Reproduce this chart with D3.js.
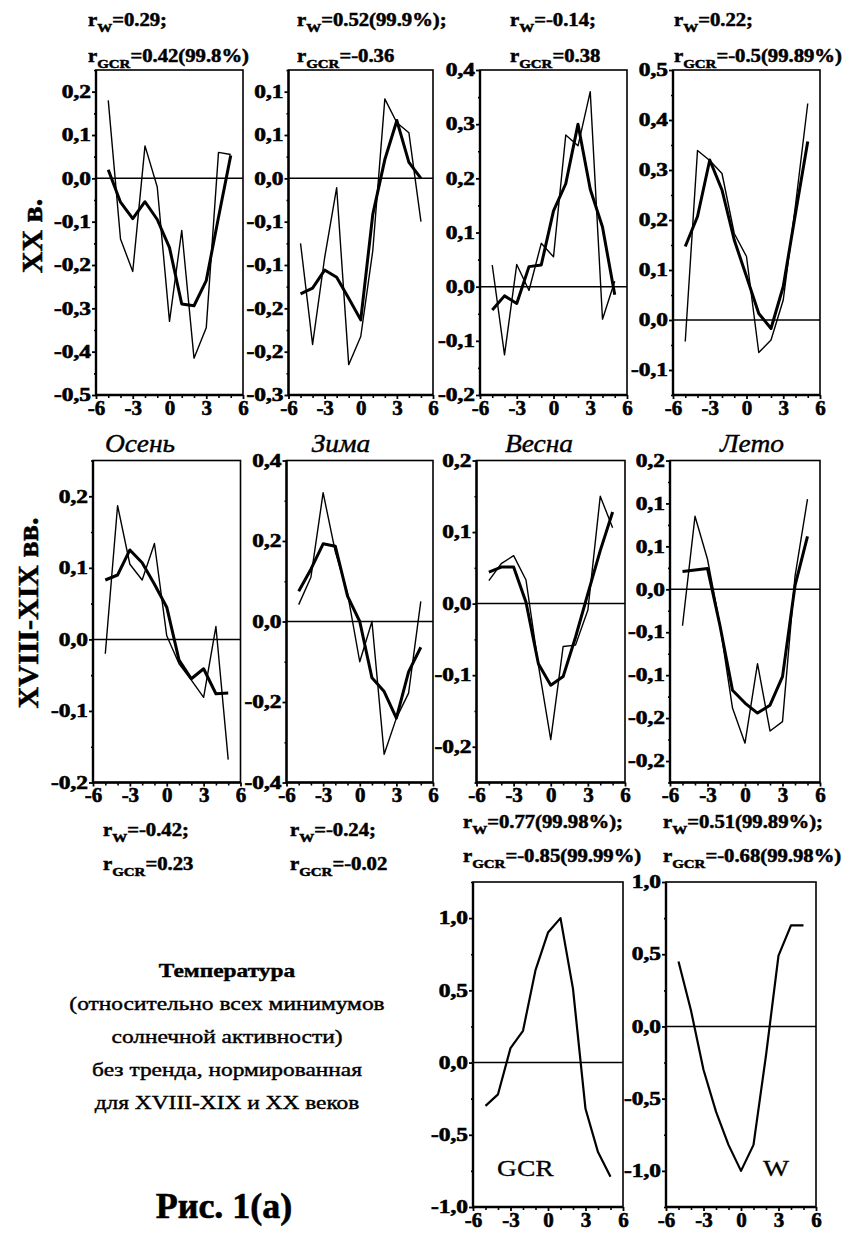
<!DOCTYPE html>
<html>
<head>
<meta charset="utf-8">
<script src="https://cdn.jsdelivr.net/npm/d3@7"></script>
<style>
body { margin: 0; background: #fff; }
svg { display: block; font-family: "Liberation Serif", "Times New Roman", serif; }
</style>
</head>
<body>
<div id="chart"></div>
<script>
// lag (years) relative to solar activity minimum
var lags = [-5, -4, -3, -2, -1, 0, 1, 2, 3, 4, 5];
var xTicks = [-6, -3, 0, 3, 6];
var seasons = ["Осень", "Зима", "Весна", "Лето"];

// XX century: thin = raw, thick = smoothed
var xxAutumnRaw = [0.18, -0.14, -0.215, 0.075, -0.02, -0.33, -0.12, -0.415, -0.345, 0.06, 0.055];
var xxAutumnSmooth = [0.02, -0.055, -0.093, -0.054, -0.095, -0.16, -0.29, -0.294, -0.236, -0.09, 0.053];
var xxWinterRaw = [-0.09, -0.23, -0.11, -0.013, -0.258, -0.219, -0.1, 0.11, 0.077, 0.063, -0.06];
var xxWinterSmooth = [-0.16, -0.152, -0.127, -0.137, -0.166, -0.196, -0.05, 0.026, 0.08, 0.022, 0.0];
var xxSpringRaw = [0.04, -0.126, 0.041, -0.007, 0.08, 0.055, 0.28, 0.26, 0.36, -0.06, 0.01];
var xxSpringSmooth = [-0.043, -0.017, -0.031, 0.037, 0.04, 0.14, 0.19, 0.3, 0.18, 0.11, -0.015];
var xxSummerRaw = [-0.043, 0.339, 0.319, 0.293, 0.173, 0.127, -0.065, -0.04, 0.04, 0.23, 0.433];
var xxSummerSmooth = [0.147, 0.207, 0.32, 0.26, 0.16, 0.087, 0.013, -0.017, 0.067, 0.213, 0.357];

// XVIII-XIX centuries
var oldAutumnRaw = [-0.02, 0.187, 0.105, 0.083, 0.134, 0.005, -0.034, -0.057, -0.081, 0.018, -0.168];
var oldAutumnSmooth = [0.083, 0.09, 0.125, 0.107, 0.077, 0.045, -0.029, -0.055, -0.041, -0.076, -0.075];
var oldWinterRaw = [0.042, 0.11, 0.32, 0.173, 0.07, -0.1, 0.0, -0.33, -0.24, -0.178, 0.05];
var oldWinterSmooth = [0.075, 0.13, 0.193, 0.187, 0.063, 0.0, -0.14, -0.174, -0.24, -0.125, -0.064];
var oldSpringRaw = [0.032, 0.056, 0.067, 0.033, -0.086, -0.19, -0.06, -0.058, -0.009, 0.15, 0.106];
var oldSpringSmooth = [0.044, 0.051, 0.051, 0.002, -0.084, -0.114, -0.102, -0.047, 0.014, 0.074, 0.128];
var oldSummerRaw = [-0.051, 0.102, 0.042, -0.05, -0.166, -0.215, -0.104, -0.198, -0.185, 0.018, 0.126];
var oldSummerSmooth = [0.025, 0.027, 0.029, -0.051, -0.141, -0.159, -0.173, -0.162, -0.122, 0.005, 0.074];

// normalised GCR and Wolf number
var gcrValues = [-0.3, -0.22, 0.1, 0.22, 0.64, 0.9, 1.0, 0.51, -0.32, -0.62, -0.79];
var wolfValues = [0.45, 0.11, -0.3, -0.59, -0.82, -1.0, -0.82, -0.2, 0.49, 0.7, 0.7];

var yDomains = [[-0.5, 0.25], [-0.3, 0.15], [-0.2, 0.4], [-0.15, 0.5],
  [-0.2, 0.25], [-0.4, 0.4], [-0.25, 0.2], [-0.27, 0.18],
  [-1, 1.25], [-1.25, 1]];
var yTickSteps = [0.1, 0.06, 0.1, 0.1, 0.1, 0.2, 0.1, 0.06, 0.5, 0.5];

var corrW = ["=0.29;", "=0.52(99.9%);", "=-0.14;", "=0.22;", "=-0.42;", "=-0.24;", "=0.77(99.98%);", "=0.51(99.89%);"];
var corrGCR = ["=0.42(99.8%)", "=-0.36", "=0.38", "=-0.5(99.89%)", "=0.23", "=-0.02", "=-0.85(99.99%)", "=-0.68(99.98%)"];

var noteLines = ["(относительно всех минимумов", "солнечной активности)", "без тренда, нормированная", "для XVIII-XIX и XX веков"];

var panels = [
  { raw: xxAutumnRaw, smooth: xxAutumnSmooth },
  { raw: xxWinterRaw, smooth: xxWinterSmooth },
  { raw: xxSpringRaw, smooth: xxSpringSmooth },
  { raw: xxSummerRaw, smooth: xxSummerSmooth },
  { raw: oldAutumnRaw, smooth: oldAutumnSmooth },
  { raw: oldWinterRaw, smooth: oldWinterSmooth },
  { raw: oldSpringRaw, smooth: oldSpringSmooth },
  { raw: oldSummerRaw, smooth: oldSummerSmooth },
  { single: gcrValues, tag: "GCR" },
  { single: wolfValues, tag: "W" }
].map(function (p, i) {
  p.domain = yDomains[i];
  p.step = yTickSteps[i];
  return p;
});

// page layout (pixel boxes of the panels)
var layout = [
  { left: 96, right: 243, top: 70, bottom: 395 },
  { left: 288.5, right: 433, top: 70, bottom: 395 },
  { left: 480, right: 627, top: 70, bottom: 395 },
  { left: 673, right: 820, top: 70, bottom: 395 },
  { left: 93, right: 240.5, top: 460.5, bottom: 782.5 },
  { left: 286.5, right: 433, top: 460.5, bottom: 782.5 },
  { left: 476.5, right: 625, top: 460.5, bottom: 782.5 },
  { left: 670, right: 820, top: 460.5, bottom: 782.5 },
  { left: 473, right: 623, top: 882, bottom: 1207 },
  { left: 666, right: 816, top: 882, bottom: 1207 }
];
var corrPos = [
  [88, 26], [297, 26], [510, 26], [674, 26],
  [103, 836], [290, 836], [463, 828], [663, 828]
];
var gcrOffset = [36, 36, 36, 36, 34, 34, 34, 34];

var svg = d3.select("#chart").append("svg")
  .attr("width", 850)
  .attr("height", 1233);

svg.append("rect").attr("width", 850).attr("height", 1233).attr("fill", "#fff");

function tickRange(domain, step) {
  var lo = Math.ceil(domain[0] / step - 1e-9), hi = Math.floor(domain[1] / step + 1e-9);
  return d3.range(lo, hi + 1).map(function (k) { return k * step; });
}

function fmt(v) {
  if (Math.abs(v) < 1e-9) v = 0;
  return v.toFixed(1).replace(".", ",");
}

function stretchText(sel, sx) {
  sel.each(function () {
    var t = d3.select(this);
    var tx = +t.attr("x") || 0;
    t.attr("x", tx / sx).attr("transform", "scale(" + sx + ",1)");
  });
}

// scanned print looks heavy: thicken glyphs a little
function heavy(sel, w) {
  sel.attr("stroke", "#000").attr("stroke-width", w || 0.5).attr("paint-order", "stroke");
}

panels.forEach(function (p, i) {
  var L = layout[i];
  var x = d3.scaleLinear().domain([-6, 6]).range([L.left, L.right]);
  var y = d3.scaleLinear().domain(p.domain).range([L.bottom, L.top]);
  var g = svg.append("g").attr("class", "panel");

  var majors = tickRange(p.domain, p.step);
  var minors = tickRange(p.domain, p.step / 2).filter(function (v) {
    return !majors.some(function (m) { return Math.abs(m - v) < 1e-9; });
  });

  // minor ticks
  g.append("g")
    .attr("transform", "translate(" + L.left + ",0)")
    .call(d3.axisLeft(y).tickValues(minors).tickSize(2).tickFormat(""))
    .call(function (a) { a.select(".domain").remove(); a.selectAll("line").attr("stroke-width", 1.6); });
  g.append("g")
    .attr("transform", "translate(0," + L.bottom + ")")
    .call(d3.axisBottom(x).tickValues(d3.range(-6, 7).filter(function (v) { return v % 3 !== 0; })).tickSize(3).tickFormat(""))
    .call(function (a) { a.select(".domain").remove(); a.selectAll("line").attr("stroke-width", 1.6); });

  // major y ticks
  var ya = g.append("g")
    .attr("transform", "translate(" + L.left + ",0)")
    .call(d3.axisLeft(y).tickValues(majors).tickSize(4).tickPadding(1).tickFormat(fmt));
  ya.select(".domain").remove();
  ya.selectAll("line").attr("stroke-width", 1.8);
  ya.selectAll("text")
    .attr("font-family", "Liberation Serif, serif")
    .attr("font-weight", "bold")
    .attr("font-size", 18)
    .attr("fill", "#000")
    .call(heavy, 0.6)
    .call(stretchText, 1.3);

  // major x ticks
  var xa = g.append("g")
    .attr("transform", "translate(0," + L.bottom + ")")
    .call(d3.axisBottom(x).tickValues(xTicks).tickSize(4).tickPadding(1).tickFormat(function (d) { return d < 0 ? "-" + (-d) : d; }));
  xa.select(".domain").remove();
  xa.selectAll("line").attr("stroke-width", 1.8);
  xa.selectAll("text")
    .attr("font-family", "Liberation Serif, serif")
    .attr("font-weight", "bold")
    .attr("font-size", 21)
    .attr("fill", "#000")
    .call(heavy, 0.6);

  // frame
  g.append("rect")
    .attr("x", L.left).attr("y", L.top)
    .attr("width", L.right - L.left).attr("height", L.bottom - L.top)
    .attr("fill", "none").attr("stroke", "#000").attr("stroke-width", 1.6);
  g.append("path")
    .attr("d", "M" + L.left + "," + L.top + "V" + L.bottom + "H" + L.right)
    .attr("fill", "none").attr("stroke", "#000").attr("stroke-width", 2.4);

  // zero line
  g.append("line")
    .attr("x1", L.left).attr("x2", L.right)
    .attr("y1", y(0)).attr("y2", y(0))
    .attr("stroke", "#000").attr("stroke-width", 1.5);

  var line = d3.line()
    .x(function (d, k) { return x(lags[k]); })
    .y(function (d) { return y(d); });

  if (p.single) {
    g.append("path").attr("d", line(p.single))
      .attr("fill", "none").attr("stroke", "#000").attr("stroke-width", 2.2)
      .attr("stroke-linejoin", "round");
    var tx = p.tag === "GCR" ? L.left + 24 : L.left + 97;
    g.append("text")
      .attr("transform", "translate(" + tx + "," + (L.bottom - 31) + ") scale(1.2,1)")
      .attr("font-size", 23)
      .call(heavy, 0.3)
      .text(p.tag);
  } else {
    g.append("path").attr("d", line(p.raw))
      .attr("fill", "none").attr("stroke", "#000").attr("stroke-width", 1.4)
      .attr("stroke-linejoin", "round");
    g.append("path").attr("d", line(p.smooth))
      .attr("fill", "none").attr("stroke", "#000").attr("stroke-width", 3)
      .attr("stroke-linejoin", "round");
  }
});

// correlation annotations
function corrLabel(px, py, sub, value) {
  var t = svg.append("text")
    .attr("transform", "translate(" + px + "," + py + ") scale(1.15,1)")
    .attr("font-weight", "bold")
    .attr("font-size", 18)
    .call(heavy, 0.5);
  t.append("tspan").text("r");
  t.append("tspan").attr("font-size", 13).attr("dy", 6).text(sub);
  t.append("tspan").attr("dy", -6).text(value);
}

corrW.forEach(function (v, i) {
  corrLabel(corrPos[i][0], corrPos[i][1], "W", v);
  corrLabel(corrPos[i][0], corrPos[i][1] + gcrOffset[i], "GCR", corrGCR[i]);
});

// season titles
var titleX = [140, 341, 539, 752];
seasons.forEach(function (s, i) {
  svg.append("text")
    .attr("transform", "translate(" + titleX[i] + ",452) scale(1.1,1)")
    .attr("text-anchor", "middle")
    .attr("font-style", "italic")
    .attr("font-size", 25)
    .call(heavy, 0.4)
    .text(s);
});

// row labels
svg.append("text")
  .attr("transform", "translate(42,236) rotate(-90)")
  .attr("text-anchor", "middle")
  .attr("font-weight", "bold")
  .attr("font-size", 30)
  .call(heavy, 0.5)
  .text("XX в.");
svg.append("text")
  .attr("transform", "translate(38,613) rotate(-90)")
  .attr("text-anchor", "middle")
  .attr("font-weight", "bold")
  .attr("font-size", 30)
  .call(heavy, 0.5)
  .text("XVIII-XIX вв.");

// caption block
svg.append("text")
  .attr("transform", "translate(227,977) scale(1.3,1)")
  .attr("text-anchor", "middle")
  .attr("font-weight", "bold")
  .attr("font-size", 18)
  .call(heavy, 0.4)
  .text("Температура");
noteLines.forEach(function (s, i) {
  svg.append("text")
    .attr("transform", "translate(227," + (1010 + i * 33) + ") scale(1.3,1)")
    .attr("text-anchor", "middle")
    .attr("font-size", 18)
    .call(heavy, 0.4)
    .text(s);
});
svg.append("text")
  .attr("transform", "translate(224,1218)")
  .attr("text-anchor", "middle")
  .attr("font-weight", "bold")
  .attr("font-size", 36)
  .call(heavy, 0.6)
  .text("Рис. 1(а)");
</script>
</body>
</html>
